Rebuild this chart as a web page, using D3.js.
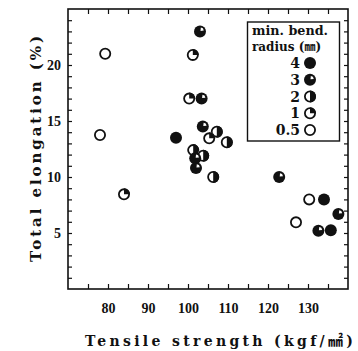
<!doctype html>
<html lang="en">
<head>
<meta charset="utf-8">
<title>Elongation vs tensile strength</title>
<style>
html, body { margin: 0; padding: 0; background: #fff; overflow: hidden; }
svg { display: block; }
text { font-family: 'DejaVu Serif', 'Liberation Serif', serif; fill: #111; }
.tick text { font-size: 14px; font-weight: bold; font-family: 'Liberation Serif', serif; }
.cjk { font-family: 'Noto Sans CJK JP', sans-serif; }
</style>
</head>
<body>
<div id="chart"></div>
<script src="https://cdnjs.cloudflare.com/ajax/libs/d3/7.8.5/d3.min.js"></script>
<script>
// data
var tensile =    [79.3, 78, 84, 97, 103, 101.2, 100.3, 103.4, 103.7, 107.2, 105.3, 109.7, 101.3, 103.8, 101.8, 102, 106.3, 122.8, 130.3, 134, 137.6, 127, 132.6, 135.7];
var elongation = [21.0, 13.75, 8.45, 13.5, 23.0, 20.9, 17.0, 17.0, 14.5, 14.05, 13.45, 13.1, 12.4, 11.9, 11.67, 10.8, 10.0, 10.0, 8.0, 8.0, 6.7, 5.95, 5.2, 5.25];
var radius =     [0.5, 0.5, 1, 4, 3, 1, 1, 3, 3, 2, 1, 2, 2, 2, 3, 3, 2, 3, 0.5, 4, 3, 0.5, 3, 4];

var legendRadii = [4, 3, 2, 1, 0.5];
var legendLabels = ['4', '3', '2', '1', '0.5'];
var xTicks = [75, 80, 85, 90, 95, 100, 105, 110, 115, 120, 125, 130, 135];
var xLabels = [80, 90, 100, 110, 120, 130];
var yTicks = d3.range(1, 25);
var yLabels = [5, 10, 15, 20];

var W = 358, H = 351;
var L = 68, R = 348, T = 9, B = 289;
var SR = 6; // marker radius

var x = d3.scaleLinear().domain([70, 140]).range([L, R]);
var y = d3.scaleLinear().domain([0, 25]).range([B, T]);

var svg = d3.select('#chart').append('svg')
	.attr('width', W).attr('height', H);

var fmtX = function (d) { return xLabels.indexOf(d) >= 0 ? d : ''; };
var fmtY = function (d) { return yLabels.indexOf(d) >= 0 ? d : ''; };

// bottom axis, ticks inward
var gx = svg.append('g').attr('transform', 'translate(0,' + B + ')')
	.call(d3.axisBottom(x).tickValues(xTicks).tickSize(-5).tickPadding(14).tickFormat(fmtX));
// top axis
var gt = svg.append('g').attr('transform', 'translate(0,' + T + ')')
	.call(d3.axisTop(x).tickValues(xTicks).tickSize(-5).tickFormat(''));
// left axis
var gy = svg.append('g').attr('transform', 'translate(' + L + ',0)')
	.call(d3.axisLeft(y).tickValues(yTicks).tickSize(-4).tickPadding(7).tickFormat(fmtY));
// right axis
var gr = svg.append('g').attr('transform', 'translate(' + R + ',0)')
	.call(d3.axisRight(y).tickValues(yTicks).tickSize(-4).tickFormat(''));

[gx, gt, gy, gr].forEach(function (g) {
	g.select('.domain').remove();
	g.selectAll('.tick line').attr('stroke', '#111').attr('stroke-width', 1.2);
});
gy.selectAll('.tick text').attr('dy', '0.35em');

svg.append('rect')
	.attr('x', L).attr('y', T).attr('width', R - L).attr('height', B - T)
	.attr('fill', 'none').attr('stroke', '#111').attr('stroke-width', 1.6);

// marker drawing by bend radius
var arc = d3.arc();
var drawMarker = function (g, r) {
	if (r === 4) {
		g.append('circle').attr('r', SR).attr('fill', '#111');
	} else if (r === 3) {
		g.append('circle').attr('r', SR).attr('fill', '#111');
		g.append('path').attr('fill', '#fff')
			.attr('transform', 'translate(0.5,-0.5)')
			.attr('d', arc({innerRadius: 0, outerRadius: SR * 0.55, startAngle: 0.1, endAngle: Math.PI / 2 - 0.1}));
	} else if (r === 2) {
		g.append('circle').attr('r', SR).attr('fill', '#fff');
		g.append('path').attr('fill', '#111')
			.attr('d', arc({innerRadius: 0, outerRadius: SR, startAngle: 0, endAngle: Math.PI}));
		g.append('circle').attr('r', SR - 0.9).attr('fill', 'none').attr('stroke', '#111').attr('stroke-width', 1.8);
	} else if (r === 1) {
		g.append('circle').attr('r', SR).attr('fill', '#fff');
		g.append('path').attr('fill', '#111')
			.attr('d', arc({innerRadius: 0, outerRadius: SR, startAngle: 0, endAngle: Math.PI / 2}));
		g.append('circle').attr('r', SR - 0.9).attr('fill', 'none').attr('stroke', '#111').attr('stroke-width', 1.8);
	} else {
		g.append('circle').attr('r', SR - 0.9).attr('fill', '#fff').attr('stroke', '#111').attr('stroke-width', 1.8);
	}
};

var pts = tensile.map(function (t, i) { return {x: t, y: elongation[i], r: radius[i]}; });
svg.append('g').selectAll('g.pt').data(pts).enter()
	.append('g').attr('class', 'pt')
	.attr('transform', function (d) { return 'translate(' + x(d.x) + ',' + y(d.y) + ')'; })
	.each(function (d) { drawMarker(d3.select(this), d.r); });

// legend
var lg = svg.append('g');
lg.append('rect').attr('x', 247.5).attr('y', 22).attr('width', 92).attr('height', 119)
	.attr('fill', '#fff').attr('stroke', '#111').attr('stroke-width', 1.4);
lg.append('text').attr('x', 252).attr('y', 35).attr('font-size', 12).attr('font-weight', 'bold')
	.attr('textLength', 76).attr('lengthAdjust', 'spacingAndGlyphs').text('min. bend.');
var rt = lg.append('text').attr('x', 252).attr('y', 51).attr('font-size', 12).attr('font-weight', 'bold');
rt.append('tspan').text('radius (');
rt.append('tspan').attr('class', 'cjk').attr('font-size', 11).text('\u339C');
rt.append('tspan').text(')');
var ly = d3.scalePoint().domain(legendRadii).range([63, 130]);
legendRadii.forEach(function (r, i) {
	lg.append('text').attr('x', 300).attr('y', ly(r) + 5).attr('text-anchor', 'end')
		.attr('font-size', 14).attr('font-weight', 'bold').text(legendLabels[i]);
	drawMarker(lg.append('g').attr('transform', 'translate(310,' + ly(r) + ')'), r);
});

// axis titles
var xt = svg.append('text').attr('x', 85).attr('y', 346).attr('font-size', 14).attr('font-weight', 'bold')
	.attr('textLength', 268).attr('lengthAdjust', 'spacing');
xt.append('tspan').text('Tensile strength (kgf/');
xt.append('tspan').attr('class', 'cjk').attr('font-size', 15).text('\u339F');
xt.append('tspan').text(')');
svg.append('text').attr('transform', 'translate(41,262) rotate(-90)')
	.attr('font-size', 15).attr('font-weight', 'bold')
	.attr('textLength', 226).attr('lengthAdjust', 'spacing')
	.text('Total elongation (%)');
</script>
</body>
</html>
